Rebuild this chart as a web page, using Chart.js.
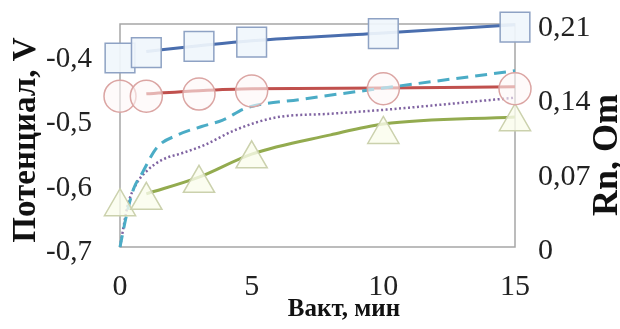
<!DOCTYPE html>
<html>
<head>
<meta charset="utf-8">
<script src="https://cdn.jsdelivr.net/npm/chart.js@4"></script>
<style>
  html, body { margin: 0; padding: 0; background: #fff; }
  #wrap { width: 620px; height: 329px; }
</style>
</head>
<body>
<div id="wrap"><canvas id="chart"></canvas></div>
<script>
// Time points for the markers (Rn, right axis)
const markerTimes = [0, 1, 3, 5, 10, 15];
const rnSquares = [0.178, 0.183, 0.189, 0.193, 0.201, 0.207];
const rnCircles = [0.142, 0.142, 0.144, 0.147, 0.149, 0.149];
const rnTriangles = [0.038, 0.044, 0.060, 0.083, 0.106, 0.118];

// Potential curves (left axis)
const blueTimes = [1, 3, 5, 10, 15];
const blueValues = [-0.395, -0.386, -0.378, -0.366, -0.353];
const redTimes = [1, 3, 5, 10, 15];
const redValues = [-0.461, -0.456, -0.453, -0.452, -0.450];
const greenTimes = [1, 3, 5, 8, 10, 15];
const greenValues = [-0.617, -0.591, -0.555, -0.525, -0.508, -0.497];
const tealTimes = [0, 0.25, 0.5, 0.85, 1.4, 2.2, 3.1, 3.9, 4.8, 6.8, 10, 15];
const tealValues = [-0.700, -0.650, -0.611, -0.584, -0.545, -0.525, -0.512, -0.502, -0.483, -0.470, -0.452, -0.425];
const purpleTimes = [0, 0.3, 0.6, 0.95, 1.6, 2.4, 3.2, 4.4, 5.9, 8, 10, 15];
const purpleValues = [-0.700, -0.634, -0.603, -0.584, -0.564, -0.553, -0.541, -0.517, -0.498, -0.492, -0.486, -0.467];

const xTicks = [0, 5, 10, 15];
const leftTicks = [-0.7, -0.6, -0.5, -0.4];
const rightTicks = [0, 0.07, 0.14, 0.21];

const pts = (xs, ys) => xs.map((x, i) => ({ x, y: ys[i] }));
const comma = v => String(Math.round(v * 100) / 100).replace('.', ',');
const SERIF = "'Liberation Serif', 'DejaVu Serif', serif";

function rotatedText(ctx, text, x, y, font) {
  ctx.save();
  ctx.fillStyle = '#111';
  ctx.textAlign = 'center';
  ctx.textBaseline = 'middle';
  ctx.font = font;
  ctx.translate(x, y);
  ctx.rotate(-Math.PI / 2);
  ctx.fillText(text, 0, 0);
  ctx.restore();
}

const frameAndTitles = {
  id: 'frameAndTitles',
  beforeDatasetsDraw(chart) {
    const { ctx, chartArea: a } = chart;
    ctx.save();
    ctx.strokeStyle = '#a6a6a6';
    ctx.lineWidth = 1.5;
    ctx.strokeRect(a.left, a.top, a.right - a.left, a.bottom - a.top);
    ctx.restore();
  },
  afterDraw(chart) {
    const { ctx } = chart;
    rotatedText(ctx, 'Потенциал, V', 26, 140, `bold 33px ${SERIF}`);
    rotatedText(ctx, 'Rn, Om', 608, 155, `bold 36px ${SERIF}`);
    ctx.save();
    ctx.fillStyle = '#111';
    ctx.textAlign = 'center';
    ctx.textBaseline = 'middle';
    ctx.font = `bold 25px ${SERIF}`;
    ctx.fillText('Вакт, мин', 344, 310);
    ctx.restore();
  }
};

// no padding from the edge labels, the plot box is set by the layout
const noPad = s => { s.paddingTop = 0; s.paddingBottom = 0; s.paddingLeft = 0; s.paddingRight = 0; };

const lineDs = (data, color, extra) => Object.assign({
  data, yAxisID: 'y', showLine: true, borderColor: color, borderWidth: 3,
  pointRadius: 0, fill: false, cubicInterpolationMode: 'monotone', clip: false
}, extra);

const markerDs = (data, style, radius, border, bg) => ({
  data, yAxisID: 'y1', showLine: false, pointStyle: style, pointRadius: radius,
  pointBorderColor: border, pointBackgroundColor: bg, pointBorderWidth: 1.5, clip: false
});

new Chart(document.getElementById('chart'), {
  type: 'scatter',
  data: {
    datasets: [
      markerDs(pts(markerTimes, rnSquares), 'rect', 21, '#8ea2c4', 'rgba(240,246,252,0.92)'),
      markerDs(pts(markerTimes, rnCircles), 'circle', 16, '#dba5a3', 'rgba(253,246,246,0.6)'),
      markerDs(pts(markerTimes, rnTriangles), 'triangle', 18, '#cbd1ad', 'rgba(250,252,236,0.8)'),
      lineDs(pts(tealTimes, tealValues), '#4bacc6', { borderDash: [12, 7] }),
      lineDs(pts(purpleTimes, purpleValues), '#8064a2', { borderDash: [2, 2.5], borderWidth: 2.5 }),
      lineDs(pts(blueTimes, blueValues), '#4a6eae'),
      lineDs(pts(redTimes, redValues), '#c0504d'),
      lineDs(pts(greenTimes, greenValues), '#93ab4f')
    ]
  },
  options: {
    responsive: true,
    maintainAspectRatio: false,
    animation: false,
    layout: { padding: { top: 24, left: 0, right: 0, bottom: 0 } },
    plugins: { legend: { display: false }, tooltip: { enabled: false } },
    scales: {
      x: {
        type: 'linear', min: 0, max: 15,
        afterFit: s => { s.height = 82; noPad(s); },
        afterBuildTicks: s => { s.ticks = xTicks.map(v => ({ value: v })); },
        grid: { display: false, drawTicks: false },
        border: { display: false },
        ticks: { padding: 22, color: '#222', font: { family: SERIF, size: 30 }, maxRotation: 0 }
      },
      y: {
        position: 'left', min: -0.7, max: -0.352,
        afterFit: s => { s.width = 120; noPad(s); },
        afterBuildTicks: s => { s.ticks = leftTicks.map(v => ({ value: v })); },
        grid: { display: false, drawTicks: false },
        border: { display: false },
        ticks: { padding: 28, labelOffset: 5, color: '#222', font: { family: SERIF, size: 29 }, callback: v => comma(v) }
      },
      y1: {
        position: 'right', min: 0, max: 0.21,
        afterFit: s => { s.width = 105; noPad(s); },
        afterBuildTicks: s => { s.ticks = rightTicks.map(v => ({ value: v })); },
        grid: { display: false, drawTicks: false },
        border: { display: false },
        ticks: { padding: 23, labelOffset: 4, color: '#222', font: { family: SERIF, size: 30 }, callback: v => comma(v) }
      }
    }
  },
  plugins: [frameAndTitles]
});
</script>
</body>
</html>
